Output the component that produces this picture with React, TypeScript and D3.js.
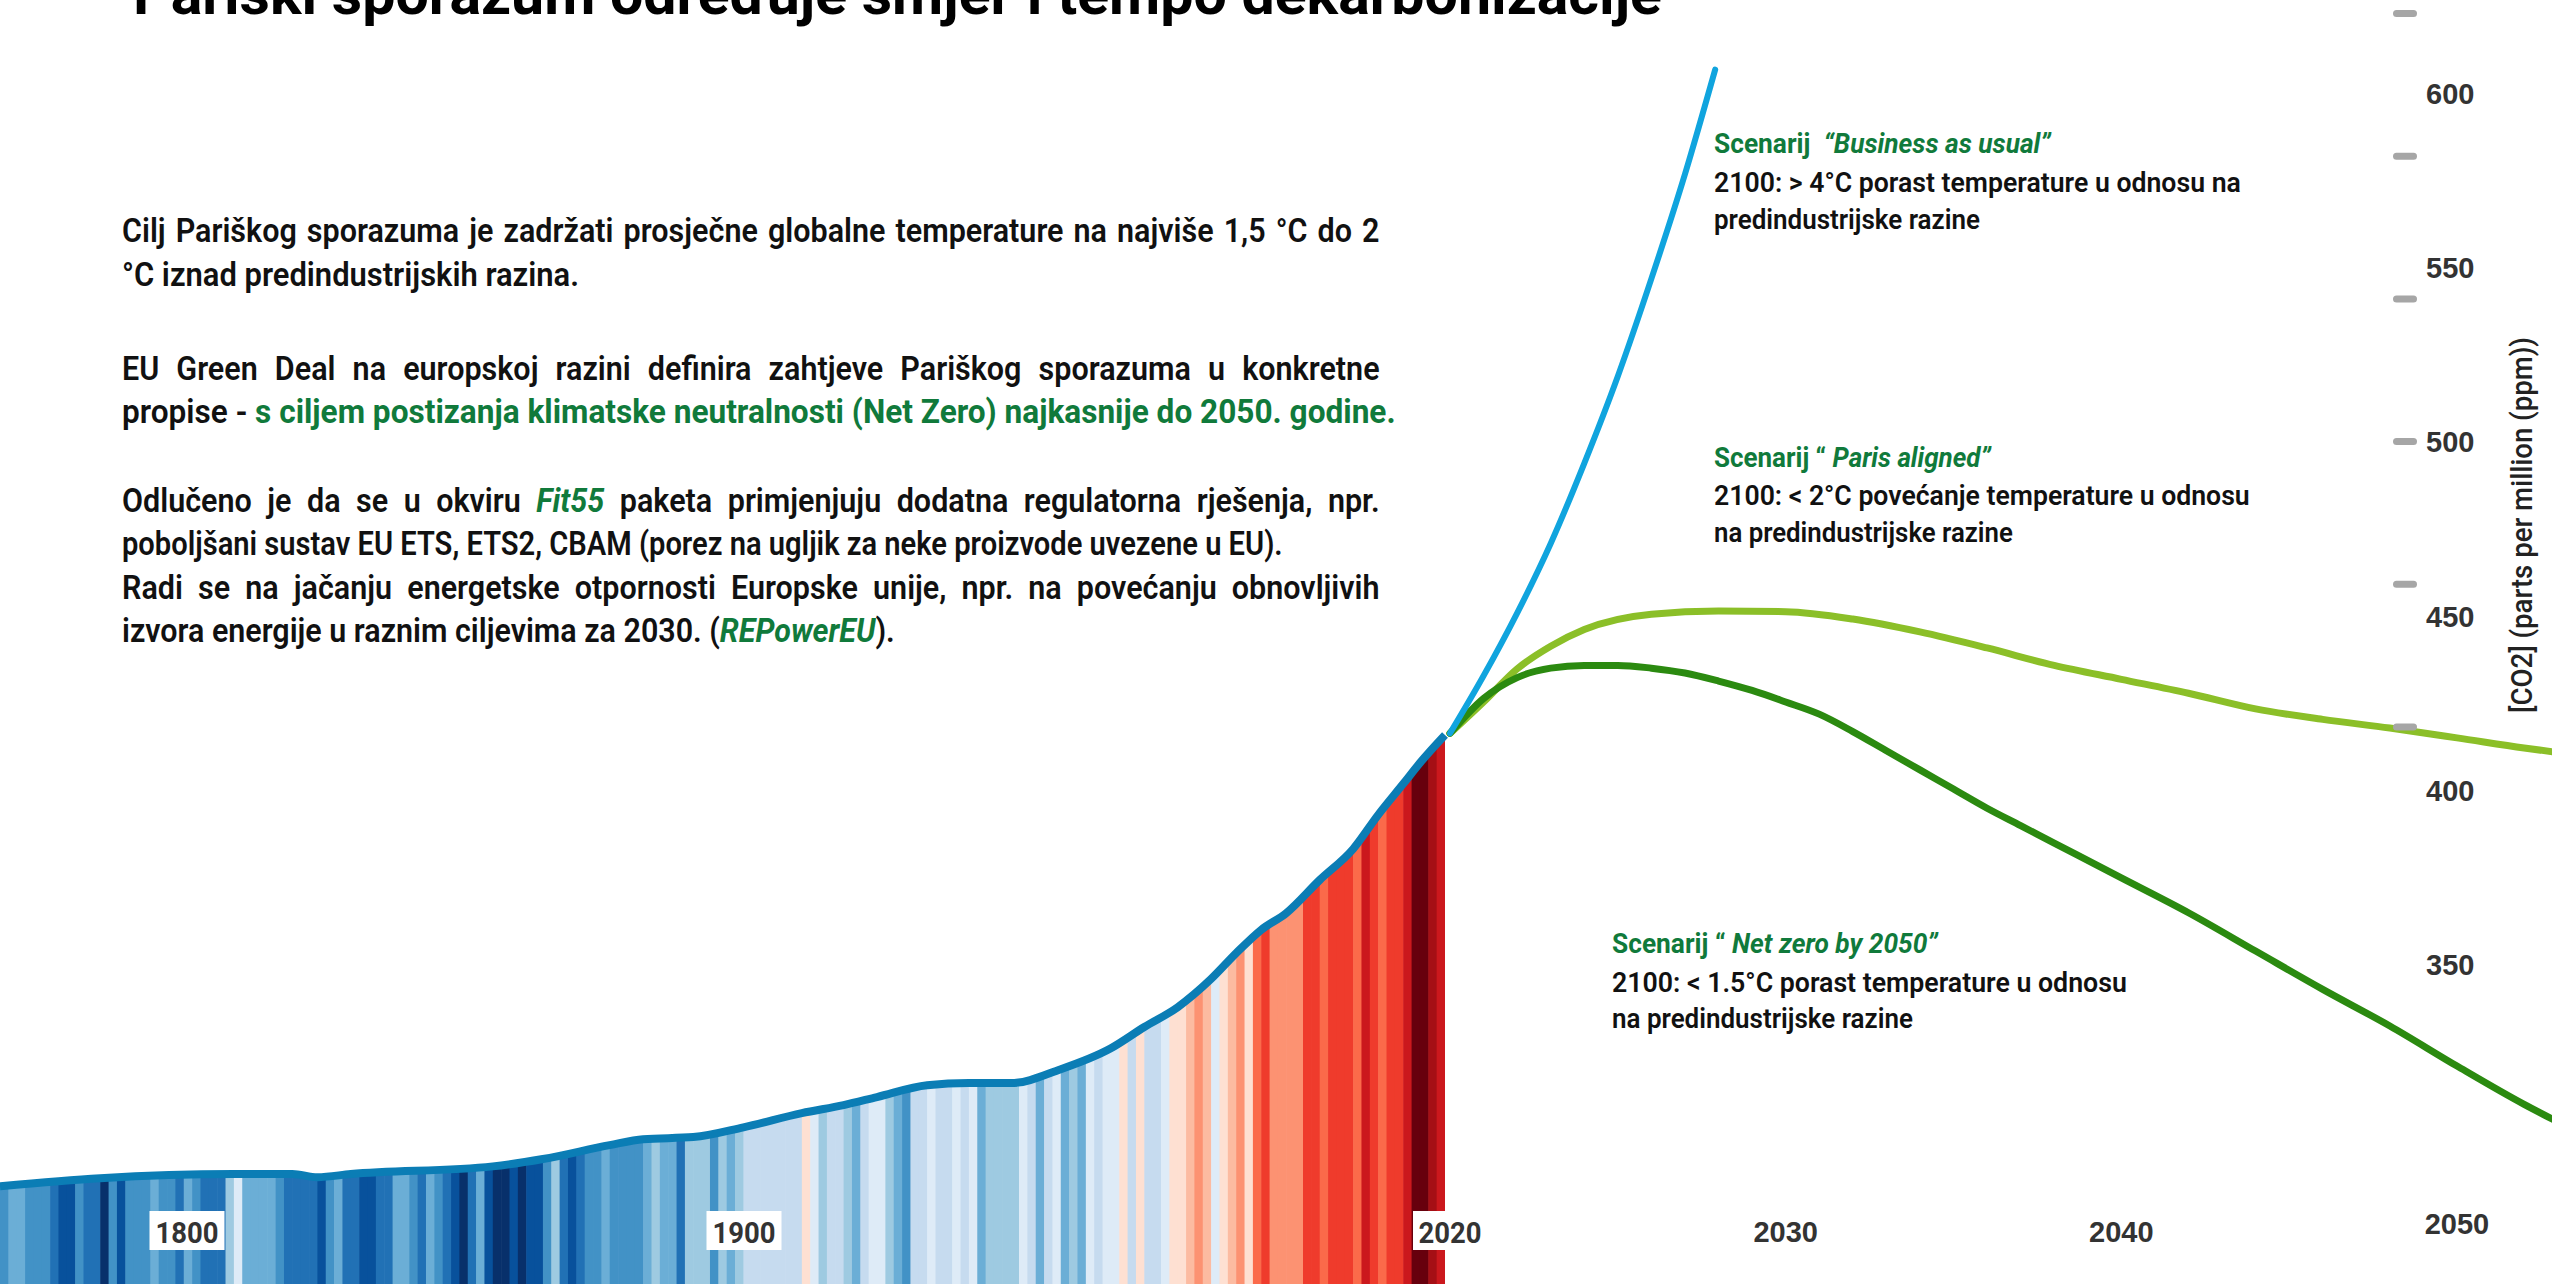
import { useLayoutEffect, useRef, useState } from 'react';
import * as d3 from 'd3';

const W = 2552;
const H = 1284;

// warming stripes, one per year from 1850; level 0 = coldest blue .. 15 = darkest red
const stripeStart = 1850;
const stripeLevels = [
  3, 4, 4, 3, 3, 3, 2, 1, 1, 3, 2, 2, 0, 3, 1, 3, 3, 3, 4, 3, 3, 2, 4, 3, 2, 2, 2, 5, 7, 4,
  4, 4, 4, 3, 2, 2, 2, 2, 1, 3, 4, 2, 2, 1, 1, 2, 2, 4, 4, 3, 2, 4, 3, 2, 1, 0, 2, 4, 1, 0,
  0, 1, 0, 1, 1, 3, 5, 2, 1, 2, 3, 3, 4, 3, 3, 3, 3, 4, 5, 4, 4, 2, 5, 5, 5, 3, 5, 4, 5, 6,
  6, 6, 6, 6, 6, 6, 8, 7, 5, 6, 6, 5, 4, 6, 7, 7, 5, 4, 3, 6, 6, 7, 6, 6, 7, 6, 7, 4, 5, 5,
  5, 5, 7, 6, 4, 6, 7, 4, 5, 4, 7, 6, 7, 7, 8, 6, 8, 6, 6, 7, 8, 8, 9, 10, 9, 7, 8, 9, 10, 8,
  11, 12, 10, 10, 10, 10, 12, 12, 11, 12, 12, 12, 11, 13, 12, 11, 12, 12, 13, 15, 15, 14, 13,
];
const stripePalette = [
  '#08306b', '#08519c', '#2171b5', '#4292c6', '#6baed6', '#9ecae1', '#c6dbef', '#deebf7',
  '#fee0d2', '#fcbba1', '#fc9272', '#fb6a4a', '#ef3b2c', '#cb181d', '#a50f15', '#67000d',
];

// historical CO2 (ppm)
const histYears = [1850, 1862, 1878, 1885, 1888, 1892, 1909, 1915, 1923, 1927, 1933, 1939, 1946, 1951, 1955, 1961,
  1966, 1971, 1977, 1983, 1987, 1991, 1995, 1998, 2001, 2004, 2008, 2012, 2015, 2018, 2020, 2023];
const histPpm = [286.5, 288.8, 290, 290, 289.1, 290, 292.2, 294.3, 298.3, 300, 300.6, 303.4, 307.5, 309.8, 312.1, 315.5,
  316.1, 316.1, 320.1, 326.1, 332.2, 337.9, 346, 353.4, 360.1, 364.9, 374.4, 383.3, 393.1, 402, 408, 416];

// scenarios
const bauYears = [2020, 2021, 2022, 2023, 2024, 2025, 2026, 2027, 2027.9];
const bauPpm = [416.5, 433, 451, 471, 494, 519, 547, 577, 607];
const parisYears = [2020, 2021, 2022, 2023, 2024, 2026, 2028, 2030, 2032, 2034, 2036, 2038, 2040, 2042, 2044, 2046, 2048, 2050, 2052, 2053];
const parisPpm = [416.5, 425.5, 435, 441.5, 446.3, 450.7, 451.6, 451.4, 449.3, 445.6, 441, 436, 432, 428, 423.5, 420.5, 418, 415.2, 412.3, 411];
const netYears = [2020, 2021, 2022, 2023, 2024, 2025, 2026, 2027, 2028, 2029, 2030, 2031, 2032, 2033, 2034, 2035, 2036,
  2037, 2038, 2040, 2042, 2044, 2046, 2048, 2050, 2052, 2053];
const netPpm = [416.5, 426.5, 432.5, 435.2, 436, 436, 435.2, 433.8, 431.5, 428.8, 425.5, 422, 417, 411.5, 406, 400.5, 395,
  390, 385, 375, 365, 354, 343, 332.5, 321, 310, 305];

const ppmTicks = [600, 550, 500, 450, 400, 350];
const dashTicks = [650, 600, 550, 500, 450, 400];
const histLabels = [1800, 1900];
const futureLabels = [2030, 2040, 2050];

const GREEN = '#107a3b';
const FONT = 'Roboto, "Liberation Sans", sans-serif';

type Seg = { t: string; fill?: string; bold?: boolean; italic?: boolean };
type Line = { x: number; y: number; w: number; segs: Seg[]; justify?: boolean };

const g = (t: string, italic = false): Seg => ({ t, fill: GREEN, bold: true, italic });

const bodyLines: Line[] = [
  { x: 122, y: 242, w: 1258, justify: true, segs: [{ t: 'Cilj Pariškog sporazuma je zadržati prosječne globalne temperature na najviše 1,5 °C do 2' }] },
  { x: 122, y: 286, w: 457, segs: [{ t: '°C iznad predindustrijskih razina.' }] },
  { x: 122, y: 380, w: 1258, justify: true, segs: [{ t: 'EU Green Deal na europskoj razini definira zahtjeve Pariškog sporazuma u konkretne' }] },
  { x: 122, y: 423, w: 1274, segs: [{ t: 'propise - ' }, g('s ciljem postizanja klimatske neutralnosti (Net Zero) najkasnije do 2050. godine.')] },
  { x: 122, y: 512, w: 1258, justify: true, segs: [{ t: 'Odlučeno je da se u okviru ' }, g('Fit55', true), { t: ' paketa primjenjuju dodatna regulatorna rješenja, npr.' }] },
  { x: 122, y: 555, w: 1161, segs: [{ t: 'poboljšani sustav EU ETS, ETS2, CBAM (porez na ugljik za neke proizvode uvezene u EU).' }] },
  { x: 122, y: 599, w: 1258, justify: true, segs: [{ t: 'Radi se na jačanju energetske otpornosti Europske unije, npr. na povećanju obnovljivih' }] },
  { x: 122, y: 642, w: 773, segs: [{ t: 'izvora energije u raznim ciljevima za 2030. (' }, g('REPowerEU', true), { t: ').' }] },
];

const scenarioLines: Line[] = [
  { x: 1714, y: 153, w: 337, segs: [g('Scenarij  '), g('“Business as usual”', true)] },
  { x: 1714, y: 192, w: 527, segs: [{ t: '2100: > 4°C porast temperature u odnosu na' }] },
  { x: 1714, y: 229, w: 266, segs: [{ t: 'predindustrijske razine' }] },
  { x: 1714, y: 467, w: 277, segs: [g('Scenarij “ '), g('Paris aligned”', true)] },
  { x: 1714, y: 505, w: 536, segs: [{ t: '2100: < 2°C povećanje temperature u odnosu' }] },
  { x: 1714, y: 542, w: 299, segs: [{ t: 'na predindustrijske razine' }] },
  { x: 1612, y: 953, w: 326, segs: [g('Scenarij “ '), g('Net zero by 2050”', true)] },
  { x: 1612, y: 992, w: 515, segs: [{ t: '2100: < 1.5°C porast temperature u odnosu' }] },
  { x: 1612, y: 1028, w: 301, segs: [{ t: 'na predindustrijske razine' }] },
];

// squeezes glyphs to the measured width; justified lines get extra word spacing
function TextBlock({ lines, size, weight }: { lines: Line[]; size: number; weight: number }) {
  const refs = useRef<(SVGTextElement | null)[]>([]);
  const [fit, setFit] = useState<{ sx: number; ws: number }[] | null>(null);

  useLayoutEffect(() => {
    const nat = lines.map((_, i) => refs.current[i]?.getComputedTextLength() || 1);
    const free = lines.map((l, i) => (l.justify ? NaN : l.w / nat[i])).filter(v => !isNaN(v));
    const base = free.length ? d3.mean(free)! : 0.8;
    setFit(lines.map((l, i) => {
      if (!l.justify) return { sx: l.w / nat[i], ws: 0 };
      const spaces = l.segs.map(s => s.t).join('').split(' ').length - 1;
      return { sx: base, ws: (l.w / base - nat[i]) / Math.max(1, spaces) };
    }));
  }, []);

  return (
    <g fontFamily={FONT} fontSize={size} fontWeight={weight} fill="#111">
      {lines.map((l, i) => {
        const f = fit?.[i];
        return (
          <text key={i} ref={el => { refs.current[i] = el; }}
            transform={`translate(${l.x},${l.y}) scale(${f ? f.sx : 1},1)`}
            style={{ wordSpacing: f ? `${f.ws}px` : '0px', whiteSpace: 'pre' }}>
            {l.segs.map((s, j) => (
              <tspan key={j} fill={s.fill} fontWeight={s.bold ? 700 : undefined}
                fontStyle={s.italic ? 'italic' : undefined}>{s.t}</tspan>
            ))}
          </text>
        );
      })}
    </g>
  );
}

export default function App() {
  const hx = d3.scaleLinear().domain([stripeStart, stripeStart + stripeLevels.length]).range([0, 1445]);
  const fx = d3.scaleLinear().domain([2020, 2050]).range([1450, 2457]);
  const y = d3.scaleLinear().domain([350, 600]).range([965, 94]);
  const dashY = d3.scaleLinear().domain([650, 400]).range([13.5, 727]);
  const labelX = d3.scaleLinear().domain([1800, 1900]).range([187, 744]);

  const hist = histYears.map((yr, i) => ({ yr, v: histPpm[i] }));
  const histArea = d3.area<{ yr: number; v: number }>()
    .x(d => hx(d.yr)).y0(H).y1(d => y(d.v)).curve(d3.curveMonotoneX)(hist)!;
  const histLine = d3.line<{ yr: number; v: number }>()
    .x(d => hx(d.yr)).y(d => y(d.v)).curve(d3.curveMonotoneX)(hist)!;

  const future = d3.line<[number, number]>().x(d => fx(d[0])).y(d => y(d[1])).curve(d3.curveMonotoneX);
  const zip = (a: number[], b: number[]) => a.map((v, i) => [v, b[i]] as [number, number]);

  return (
    <div>
      <style>{'body{margin:0;overflow:hidden}'}</style>
      <svg width={W} height={H} style={{ display: 'block', background: '#fff' }}>
        <defs>
          <clipPath id="histClip"><path d={histArea} /></clipPath>
        </defs>

        {/* title, cut by the top edge as in the original slide */}
        <text x={133} y={14} fontFamily={FONT} fontWeight={700} fontSize={58} fill="#000"
          textLength={1529} lengthAdjust="spacingAndGlyphs">
          Pariški sporazum određuje smjer i tempo dekarbonizacije
        </text>

        <g clipPath="url(#histClip)">
          {stripeLevels.map((lv, i) => (
            <rect key={i} x={hx(stripeStart + i)} y={0}
              width={hx(stripeStart + i + 1) - hx(stripeStart + i) + 0.6} height={H}
              fill={stripePalette[lv]} />
          ))}
        </g>
        <path d={histLine} fill="none" stroke="#0b7db5" strokeWidth={8} strokeLinejoin="round" />

        <path d={future(zip(parisYears, parisPpm))!} fill="none" stroke="#8bbf28" strokeWidth={7} strokeLinecap="round" />
        <path d={future(zip(netYears, netPpm))!} fill="none" stroke="#2b8a10" strokeWidth={7} strokeLinecap="round" />
        <path d={future(zip(bauYears, bauPpm))!} fill="none" stroke="#10a4de" strokeWidth={6} strokeLinecap="round" />

        {/* right axis */}
        {dashTicks.map(v => (
          <rect key={v} x={2393} y={dashY(v) - 3.5} width={24} height={7} rx={3.5} fill="#a6a6a6" />
        ))}
        <g fontFamily='"Liberation Sans", Arial, sans-serif' fontWeight={700} fontSize={29} fill="#333">
          {ppmTicks.map(v => (
            <text key={v} x={2426} y={y(v) + 10}>{v}</text>
          ))}
          {futureLabels.map(v => (
            <text key={v} x={fx(v)} y={v === 2050 ? 1234 : 1242} textAnchor="middle">{v}</text>
          ))}
        </g>
        <text transform="translate(2532,525) rotate(-90)" textAnchor="middle" fontFamily={FONT}
          fontSize={30} fontWeight={500} fill="#222" textLength={376} lengthAdjust="spacingAndGlyphs">
          [CO2] (parts per million (ppm))
        </text>

        {/* boxed year labels */}
        <g fontFamily={FONT} fontWeight={700} fontSize={30} fill="#333">
          {histLabels.map(v => (
            <g key={v}>
              <rect x={labelX(v) - 37.5} y={1211} width={75} height={39} fill="#fff" />
              <text x={labelX(v)} y={1243} textAnchor="middle" textLength={63} lengthAdjust="spacingAndGlyphs">{v}</text>
            </g>
          ))}
          <rect x={fx(2020) - 37} y={1211} width={74} height={39} fill="#fff" />
          <text x={fx(2020)} y={1243} textAnchor="middle" textLength={63} lengthAdjust="spacingAndGlyphs">2020</text>
        </g>

        <TextBlock lines={bodyLines} size={34} weight={600} />
        <TextBlock lines={scenarioLines} size={28} weight={600} />
      </svg>
    </div>
  );
}
